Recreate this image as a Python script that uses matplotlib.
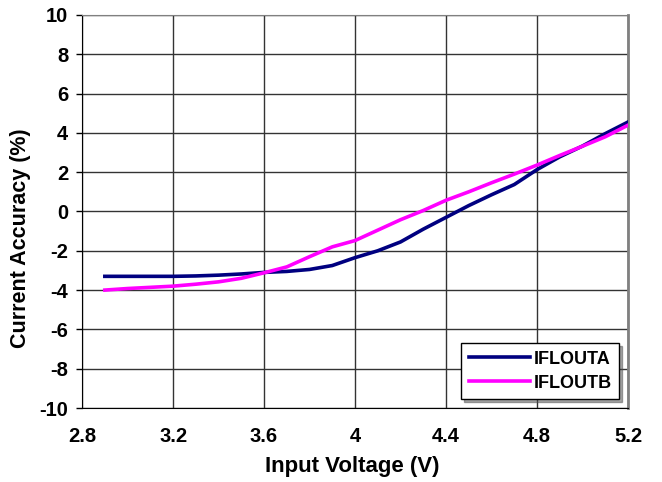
import matplotlib
matplotlib.use("Agg")
import matplotlib.pyplot as plt

plt.rcParams['font.family'] = ['Liberation Sans', 'DejaVu Sans']
plt.rcParams['font.weight'] = 'bold'
plt.rcParams['axes.unicode_minus'] = False

# input voltage (V)
voltage = [2.9, 3.0, 3.1, 3.2, 3.3, 3.4, 3.5, 3.6, 3.7, 3.8, 3.9, 4.0,
           4.1, 4.2, 4.3, 4.4, 4.5, 4.6, 4.7, 4.8, 4.9, 5.0, 5.1, 5.2]

# current accuracy (%)
iflouta = [-3.3, -3.3, -3.3, -3.3, -3.28, -3.24, -3.18, -3.1, -3.05, -2.95, -2.75, -2.35,
           -2.0, -1.55, -0.9, -0.3, 0.3, 0.85, 1.37, 2.13, 2.78, 3.33, 3.96, 4.55]
ifloutb = [-4.0, -3.92, -3.86, -3.8, -3.7, -3.58, -3.4, -3.12, -2.82, -2.3, -1.8, -1.48,
           -0.95, -0.42, 0.05, 0.57, 1.0, 1.46, 1.9, 2.36, 2.85, 3.32, 3.8, 4.39]

xticks = [2.8, 3.2, 3.6, 4.0, 4.4, 4.8, 5.2]
xtick_labels = ['2.8', '3.2', '3.6', '4', '4.4', '4.8', '5.2']
yticks = [-10, -8, -6, -4, -2, 0, 2, 4, 6, 8, 10]

fig = plt.figure(figsize=(6.62, 4.82), dpi=100)
ax = fig.add_axes([0.124, 0.1535, 0.8246, 0.8155])

ax.plot(voltage, iflouta, color='#000080', lw=2.6, label='IFLOUTA', zorder=3)
ax.plot(voltage, ifloutb, color='#FF00FF', lw=2.6, label='IFLOUTB', zorder=3)

ax.set_xlim(2.8, 5.2)
ax.set_ylim(-10, 10)
ax.set_xticks(xticks)
ax.set_xticklabels(xtick_labels, fontsize=14.5, fontweight='bold')
ax.set_yticks(yticks)
ax.set_yticklabels([str(v) for v in yticks], fontsize=14.5, fontweight='bold')

ax.grid(True, color='#333333', lw=1.0)
ax.set_axisbelow(True)

ax.tick_params(axis='x', length=0, pad=14)
ax.tick_params(axis='y', length=4, width=1, direction='out', pad=6)

ax.spines['left'].set_color('black')
ax.spines['bottom'].set_color('black')
ax.spines['top'].set_color('#808080')
ax.spines['right'].set_color('#808080')
ax.spines['right'].set_linewidth(2)

ax.set_xlabel('Input Voltage (V)', fontsize=16, fontweight='bold')
ax.set_ylabel('Current Accuracy (%)', fontsize=15.5, fontweight='bold')
ax.xaxis.set_label_coords(0.495, -0.1476)
ax.yaxis.set_label_coords(-0.1136, 0.4326)
ax.xaxis.label.set_va('center')
ax.yaxis.label.set_va('center')

leg = ax.legend(loc='lower right', bbox_to_anchor=(1.0, 0.0),
                frameon=True, fancybox=False, shadow=True, handlelength=3.4,
                borderpad=0.4, labelspacing=0.4, handletextpad=0.2,
                prop={'weight': 'bold', 'size': 13})
leg.get_frame().set_edgecolor('black')
leg.get_frame().set_linewidth(1.0)

fig.savefig('out.png', dpi=100)
